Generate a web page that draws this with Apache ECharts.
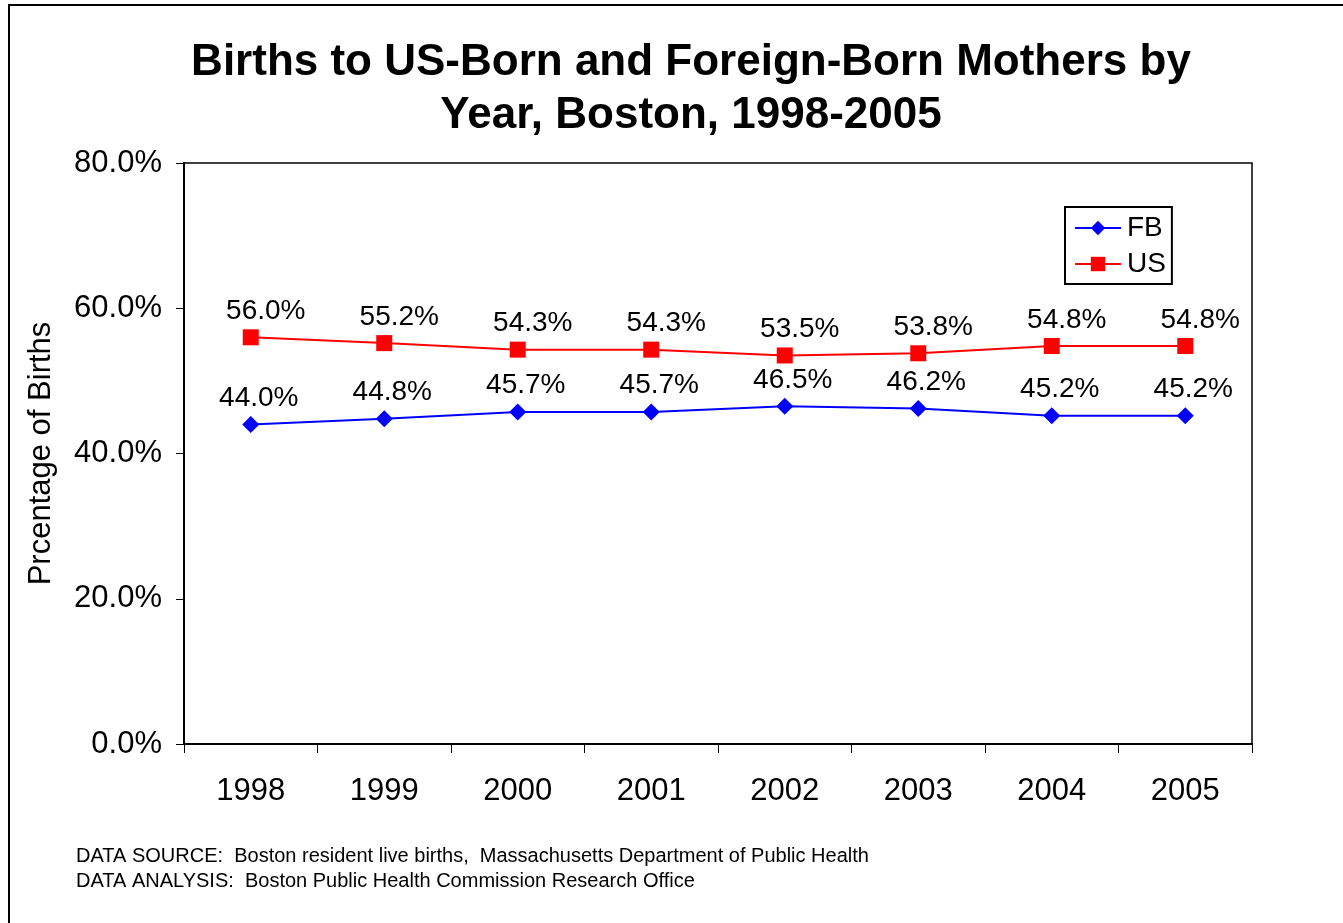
<!DOCTYPE html>
<html>
<head>
<meta charset="utf-8">
<title>Births to US-Born and Foreign-Born Mothers</title>
<script src="https://cdn.jsdelivr.net/npm/echarts@6/dist/echarts.min.js"></script>
<style>
  html, body { margin: 0; padding: 0; background: #fff; }
  #main-chart { width: 1343px; height: 923px; }
</style>
</head>
<body>
<div id="main-chart"></div>
<script>
const years = ['1998', '1999', '2000', '2001', '2002', '2003', '2004', '2005']
const fbValues = [44.0, 44.8, 45.7, 45.7, 46.5, 46.2, 45.2, 45.2]
const usValues = [56.0, 55.2, 54.3, 54.3, 53.5, 53.8, 54.8, 54.8]
const footerLines = [
  'DATA SOURCE:  Boston resident live births,  Massachusetts Department of Public Health',
  'DATA ANALYSIS:  Boston Public Health Commission Research Office'
]

const FONT = 'Arial, "Liberation Sans", sans-serif'

const chart = echarts.init(document.getElementById('main-chart'))

// excel nudged its data labels a bit to the right
function pctLabel(dx) {
  return {
    show: true,
    position: 'top',
    distance: 4,
    offset: [dx, 0],
    fontFamily: FONT,
    fontSize: 28,
    color: '#000',
    formatter: p => p.value.toFixed(1) + '%'
  }
}

chart.setOption({
  animation: false,
  backgroundColor: '#fff',
  title: {
    text: 'Births to US-Born and Foreign-Born Mothers by\nYear, Boston, 1998-2005',
    left: 686,
    textAlign: 'center',
    top: 31,
    textStyle: { fontFamily: FONT, fontSize: 44, fontWeight: 'bold', color: '#000', lineHeight: 53 }
  },
  legend: {
    orient: 'vertical',
    left: 1065,
    top: 207,
    padding: [7, 6, 6, 9],
    itemGap: 8,
    itemWidth: 46,
    itemHeight: 18,
    borderColor: '#000',
    borderWidth: 2,
    backgroundColor: '#fff',
    textStyle: { fontFamily: FONT, fontSize: 28, color: '#000', padding: [0, 0, 0, 1] },
    data: ['FB', 'US']
  },
  grid: {
    left: 184, right: 91, top: 163, bottom: 179,
    show: true, borderColor: '#000', borderWidth: 1.5, backgroundColor: '#fff'
  },
  xAxis: {
    type: 'category',
    data: years,
    boundaryGap: true,
    axisLine: { lineStyle: { color: '#000', width: 2 } },
    axisTick: { show: true, length: 9, lineStyle: { color: '#000', width: 1 } },
    axisLabel: { margin: 32, fontFamily: FONT, fontSize: 31, color: '#000' }
  },
  yAxis: {
    type: 'value',
    min: 0, max: 80, interval: 20,
    name: 'Prcentage of Births',
    nameLocation: 'middle',
    nameGap: 127,
    nameRotate: 90,
    nameTextStyle: { fontFamily: FONT, fontSize: 31, color: '#000' },
    splitLine: { show: false },
    axisLine: { show: true, lineStyle: { color: '#000', width: 2 } },
    axisTick: { show: true, length: 8, lineStyle: { color: '#000', width: 1 } },
    axisLabel: {
      margin: 22, fontFamily: FONT, fontSize: 31, color: '#000',
      formatter: v => v.toFixed(1) + '%'
    }
  },
  series: [
    {
      name: 'FB',
      type: 'line',
      data: fbValues,
      symbol: 'diamond',
      symbolSize: 17,
      color: '#0000FF',
      lineStyle: { color: '#0000FF', width: 2 },
      itemStyle: { color: '#0000FF' },
      label: pctLabel(8)
    },
    {
      name: 'US',
      type: 'line',
      data: usValues,
      symbol: 'rect',
      symbolSize: 16,
      color: '#FF0000',
      lineStyle: { color: '#FF0000', width: 2 },
      itemStyle: { color: '#FF0000' },
      label: pctLabel(15)
    }
  ],
  graphic: [
    {
      type: 'rect',
      silent: true,
      shape: { x: 9, y: 5, width: 1400, height: 1000 },
      style: { fill: 'none', stroke: '#000', lineWidth: 2 }
    },
    ...footerLines.map((line, i) => ({
      type: 'text',
      left: 76,
      top: 846 + i * 25,
      silent: true,
      style: { text: line, fontFamily: FONT, fontSize: 20, fill: '#000' }
    }))
  ]
})
</script>
</body>
</html>
